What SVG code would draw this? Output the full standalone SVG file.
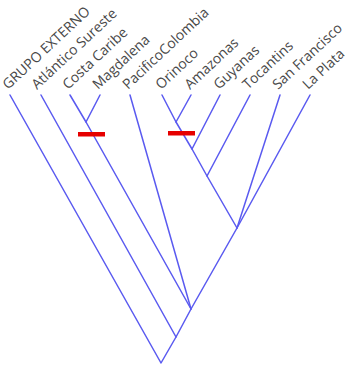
<svg xmlns="http://www.w3.org/2000/svg" width="348" height="365" viewBox="0 0 348 365">
<style>
.e{fill:none;stroke:#5a5af0;stroke-width:1.5;stroke-linecap:round;stroke-linejoin:round}
.t{font-family:"Open Sans","Noto Sans",sans-serif;font-size:14px;fill:#484848}
.bar{fill:#e60000}
</style>
<rect width="348" height="365" fill="#fff"/>
<g id="connectors">
<polyline class="e" points="310,95 237,228 191,309 176,337 161,363 10,95"/>
<line class="e" x1="176" y1="337" x2="41" y2="95"/>
<polyline class="e" points="191,309 86,122 70,95"/>
<line class="e" x1="86" y1="122" x2="100" y2="95"/>
<line class="e" x1="191" y1="309" x2="130" y2="95"/>
<line class="e" x1="237" y1="228" x2="280" y2="95"/>
<polyline class="e" points="237,228 207,176 192,149 176,122 162,95"/>
<line class="e" x1="207" y1="176" x2="250" y2="95"/>
<line class="e" x1="192" y1="149" x2="220" y2="95"/>
<line class="e" x1="176" y1="122" x2="191" y2="95"/>
</g>
<g id="synapomorphies">
<rect class="bar" x="78" y="132" width="27" height="4.5"/>
<rect class="bar" x="168" y="131" width="27" height="4.5"/>
</g>
<g id="n-grupo-externo"><text class="t" transform="translate(8,90) rotate(-43)">GRUPO EXTERNO</text></g>
<g id="n-atlantico-sureste"><text class="t" transform="translate(37,90) rotate(-43)">Atlántico Sureste</text></g>
<g id="n-costa-caribe"><text class="t" transform="translate(68,90) rotate(-43)">Costa Caribe</text></g>
<g id="n-magdalena"><text class="t" transform="translate(98,90) rotate(-43)">Magdalena</text></g>
<g id="n-pacifico-colombia"><text class="t" transform="translate(128,90) rotate(-43)">PacificoColombia</text></g>
<g id="n-orinoco"><text class="t" transform="translate(161,90) rotate(-43)">Orinoco</text></g>
<g id="n-amazonas"><text class="t" transform="translate(190,90) rotate(-43)">Amazonas</text></g>
<g id="n-guyanas"><text class="t" transform="translate(219,90) rotate(-43)">Guyanas</text></g>
<g id="n-tocantins"><text class="t" transform="translate(248,90) rotate(-43)">Tocantins</text></g>
<g id="n-san-francisco"><text class="t" transform="translate(278,90) rotate(-43)">San Francisco</text></g>
<g id="n-la-plata"><text class="t" transform="translate(308,90) rotate(-43)">La Plata</text></g>
</svg>
